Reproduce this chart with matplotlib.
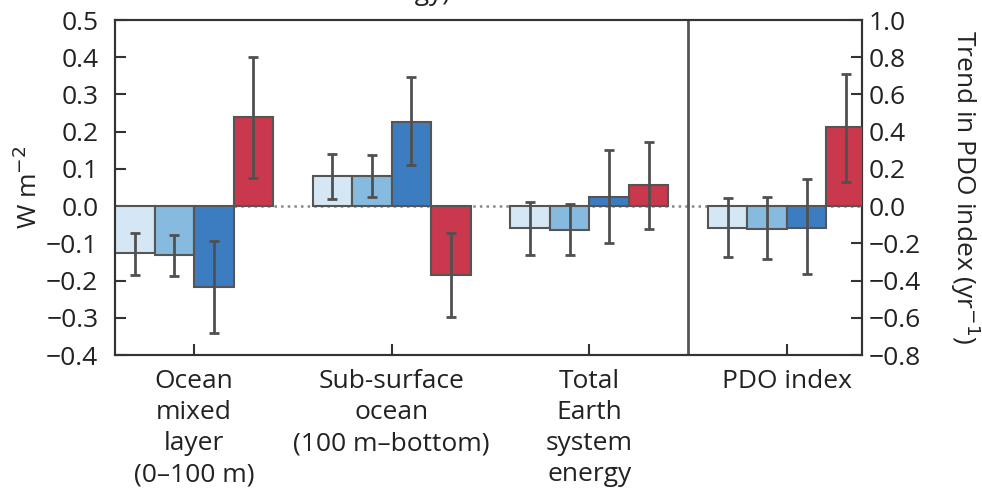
import numpy as np
import matplotlib
matplotlib.use('Agg')
import matplotlib.pyplot as plt

plt.rcParams['font.family'] = ['Open Sans', 'DejaVu Sans']

# Data (W m-2 for the three energy groups; PDO trend in yr-1 on right axis)
groups = ['Ocean\nmixed\nlayer\n(0\u2013100 m)',
          'Sub-surface\nocean\n(100 m\u2013bottom)',
          'Total\nEarth\nsystem\nenergy',
          'PDO index']

energy_vals = np.array([
    [-0.127, -0.132, -0.217, 0.239],
    [0.081, 0.080, 0.226, -0.185],
    [-0.058, -0.063, 0.025, 0.057],
])
energy_lo = np.array([
    [-0.185, -0.187, -0.340, 0.075],
    [0.020, 0.024, 0.110, -0.297],
    [-0.130, -0.132, -0.098, -0.062],
])
energy_hi = np.array([
    [-0.072, -0.078, -0.093, 0.401],
    [0.140, 0.137, 0.347, -0.072],
    [0.012, 0.007, 0.150, 0.172],
])

pdo_vals = np.array([-0.116, -0.125, -0.116, 0.426])
pdo_lo = np.array([-0.276, -0.286, -0.367, 0.131])
pdo_hi = np.array([0.042, 0.047, 0.146, 0.708])

colors = ['#d5e7f5', '#86badf', '#3c7dc2', '#c9384c']
edge = '#555555'
err_col = '#505050'
fs = 19

fig = plt.figure(figsize=(9.82, 4.93), dpi=100)
ax = fig.add_axes([0.1171, 0.2799, 0.7607, 0.6795])
ax2 = ax.twinx()

width = 0.2
offsets = np.array([-0.3, -0.1, 0.1, 0.3])

for g in range(3):
    xs = g + offsets
    v = energy_vals[g]
    yerr = np.vstack([v - energy_lo[g], energy_hi[g] - v])
    ax.bar(xs, v, width, color=colors, edgecolor=edge, linewidth=1.5, zorder=3)
    ax.errorbar(xs, v, yerr=yerr, fmt='none', ecolor=err_col, elinewidth=2,
                capsize=3.5, capthick=2, zorder=4)

xs = 3 + offsets
yerr = np.vstack([pdo_vals - pdo_lo, pdo_hi - pdo_vals])
ax2.bar(xs, pdo_vals, width, color=colors, edgecolor=edge, linewidth=1.5, zorder=3)
ax2.errorbar(xs, pdo_vals, yerr=yerr, fmt='none', ecolor=err_col, elinewidth=2,
             capsize=3.5, capthick=2, zorder=4)

ax.axhline(0, color='#888888', linestyle=':', linewidth=1.8, zorder=2)
ax.axvline(2.5, color='#555555', linewidth=2, zorder=5)

ax.set_xlim(-0.40, 3.38)
ax.set_ylim(-0.4, 0.5)
ax2.set_ylim(-0.8, 1.0)

ax.set_yticks(np.arange(-0.4, 0.51, 0.1))
ax.set_yticklabels(['\u22120.4', '\u22120.3', '\u22120.2', '\u22120.1', '0.0',
                    '0.1', '0.2', '0.3', '0.4', '0.5'])
ax2.set_yticks(np.arange(-0.8, 1.01, 0.2))
ax2.set_yticklabels(['\u22120.8', '\u22120.6', '\u22120.4', '\u22120.2', '0.0',
                     '0.2', '0.4', '0.6', '0.8', '1.0'])
ax.set_xticks(range(4))
ax.set_xticklabels(groups, linespacing=1.32, va='top')

for a in (ax, ax2):
    a.tick_params(direction='in', length=8, width=1.5, color='#333333',
                  labelsize=fs, labelcolor='#222222', pad=5)
    for s in a.spines.values():
        s.set_linewidth(1.5)
        s.set_color('#333333')
ax.tick_params(axis='y', pad=12)
ax.tick_params(axis='x', pad=10)

ax.set_ylabel('W m$^{-2}$', fontsize=fs, color='#222222', labelpad=2)
ax2.set_ylabel('Trend in PDO index (yr$^{-1}$)', fontsize=fs, color='#222222',
               rotation=270, labelpad=44)

fig.text(450 / 982, 1.0, 'energy)', ha='right', va='baseline', fontsize=fs,
         color='#222222')

fig.savefig('out.png', dpi=100)
